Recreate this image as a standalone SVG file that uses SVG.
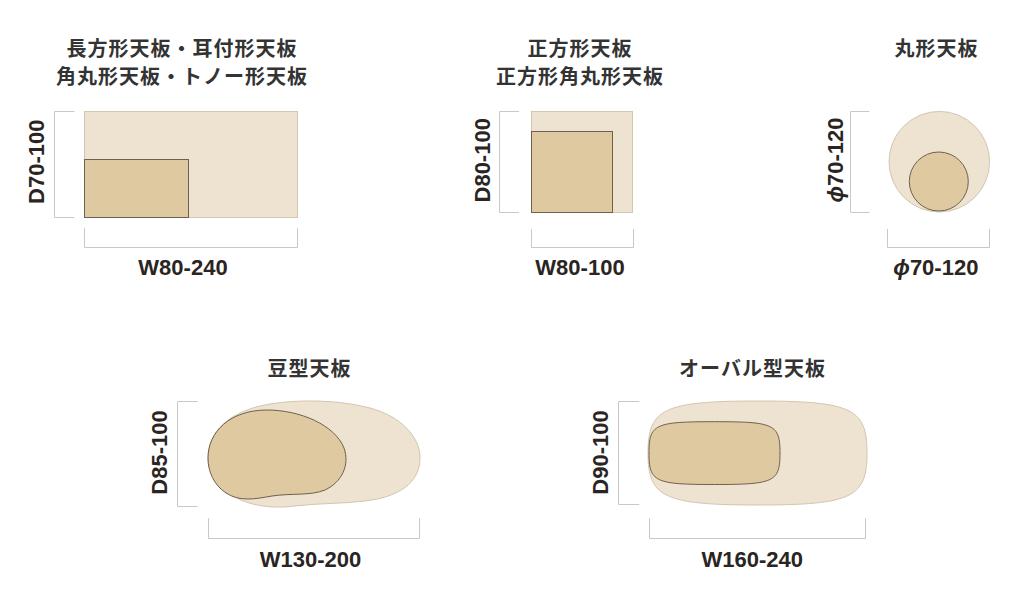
<svg xmlns="http://www.w3.org/2000/svg" width="1020" height="599" viewBox="0 0 1020 599">
<style>
.bg{fill:#ffffff}
.outer{fill:#ede3d0;stroke:#d3c6b1;stroke-width:1}
.inner{fill:#dfc9a0;stroke:#6e6050;stroke-width:1}
.dim{fill:none;stroke:#c8c8c8;stroke-width:1}
.title{font-family:"Noto Sans CJK JP","Noto Sans CJK SC",sans-serif;font-weight:700;font-size:20px;letter-spacing:1px;fill:#333333;text-anchor:middle}
.lbl{font-family:"Liberation Sans",Arial,sans-serif;font-weight:700;font-size:22px;fill:#2a2522;text-anchor:middle}
.phi{font-style:italic}
</style>
<rect class="bg" x="0" y="0" width="1020" height="599"/>

<g id="rect-table">
<text class="title" x="182" y="55.5">長方形天板・耳付形天板</text>
<text class="title" x="182" y="84">角丸形天板・トノー形天板</text>
<rect class="outer" x="84.5" y="111.5" width="213" height="106"/>
<rect class="inner" x="84.5" y="159.5" width="104" height="58"/>
<text class="lbl" transform="translate(44.3,161.7) rotate(-90)">D70-100</text>
<text class="lbl" x="183" y="275">W80-240</text>
</g>

<g id="square-table">
<text class="title" x="580" y="55.5">正方形天板</text>
<text class="title" x="580" y="84">正方形角丸形天板</text>
<rect class="outer" x="531.5" y="111.5" width="101" height="101"/>
<rect class="inner" x="531.5" y="131.5" width="81" height="81"/>
<text class="lbl" transform="translate(490,160.3) rotate(-90)">D80-100</text>
<text class="lbl" x="580" y="275">W80-100</text>
</g>

<g id="round-table">
<text class="title" x="936.5" y="55.5">丸形天板</text>
<circle class="outer" cx="939.3" cy="161.7" r="50.3"/>
<circle class="inner" cx="938.8" cy="181.5" r="29.5"/>
<text class="lbl" transform="translate(843.3,160) rotate(-90)"><tspan class="phi">ϕ</tspan>70-120</text>
<text class="lbl" x="935.8" y="275"><tspan class="phi">ϕ</tspan>70-120</text>
</g>

<g id="bean-table">
<text class="title" x="309.5" y="375.5">豆型天板</text>
<path class="outer" d="M 208,458 C 208,430 232,410 270,404 C 300,399 340,400 370,408 C 400,416 420,436 420,458 C 420,482 400,497 365,501 C 340,504 320,503 295,506 C 265,510 235,503 220,485 C 211,475 208,466 208,458 Z"/>
<path class="inner" d="M 208,458 C 208,432 230,410 267,410 C 300,410 335,425 344,448 C 350,465 342,482 325,490 C 310,496 292,493 272,496 C 255,499 240,502 226,493 C 214,485 208,472 208,458 Z"/>
<text class="lbl" transform="translate(166.7,452.5) rotate(-90)">D85-100</text>
<text class="lbl" x="310.5" y="566.7">W130-200</text>
</g>

<g id="oval-table">
<text class="title" x="752.5" y="375.5">オーバル型天板</text>
<path class="outer" d="M 758,401 C 853,401 867,409 867,453 C 867,497 853,505 758,505 C 663,505 648,497 648,453 C 648,409 663,401 758,401 Z"/>
<path class="inner" d="M 714.5,421.7 C 774,421.7 780,424 780,453 C 780,482 774,484.5 714.5,484.5 C 655,484.5 649,482 649,453 C 649,424 655,421.7 714.5,421.7 Z"/>
<text class="lbl" transform="translate(608.3,452.5) rotate(-90)">D90-100</text>
<text class="lbl" x="752.3" y="566.7">W160-240</text>
</g>

<g id="dimension-lines">
<path class="dim" d="M74.3,111.5 H54.5 V217.5 H74.3"/>
<path class="dim" d="M84.5,228 V247.5 H297.5 V228"/>
<path class="dim" d="M519,111.5 H499.5 V212.5 H519"/>
<path class="dim" d="M531.5,229 V247.5 H633.5 V229"/>
<path class="dim" d="M869.3,111.5 H850.5 V212.5 H869.3"/>
<path class="dim" d="M887.5,229 V247.5 H989.5 V229"/>
<path class="dim" d="M197.7,401.5 H177.5 V506.5 H197.7"/>
<path class="dim" d="M208.5,518.3 V538.5 H419.5 V518.3"/>
<path class="dim" d="M639.3,401.5 H618.5 V504.5 H639.3"/>
<path class="dim" d="M649.5,518.3 V538.5 H865.5 V518.3"/>
</g>
</svg>
